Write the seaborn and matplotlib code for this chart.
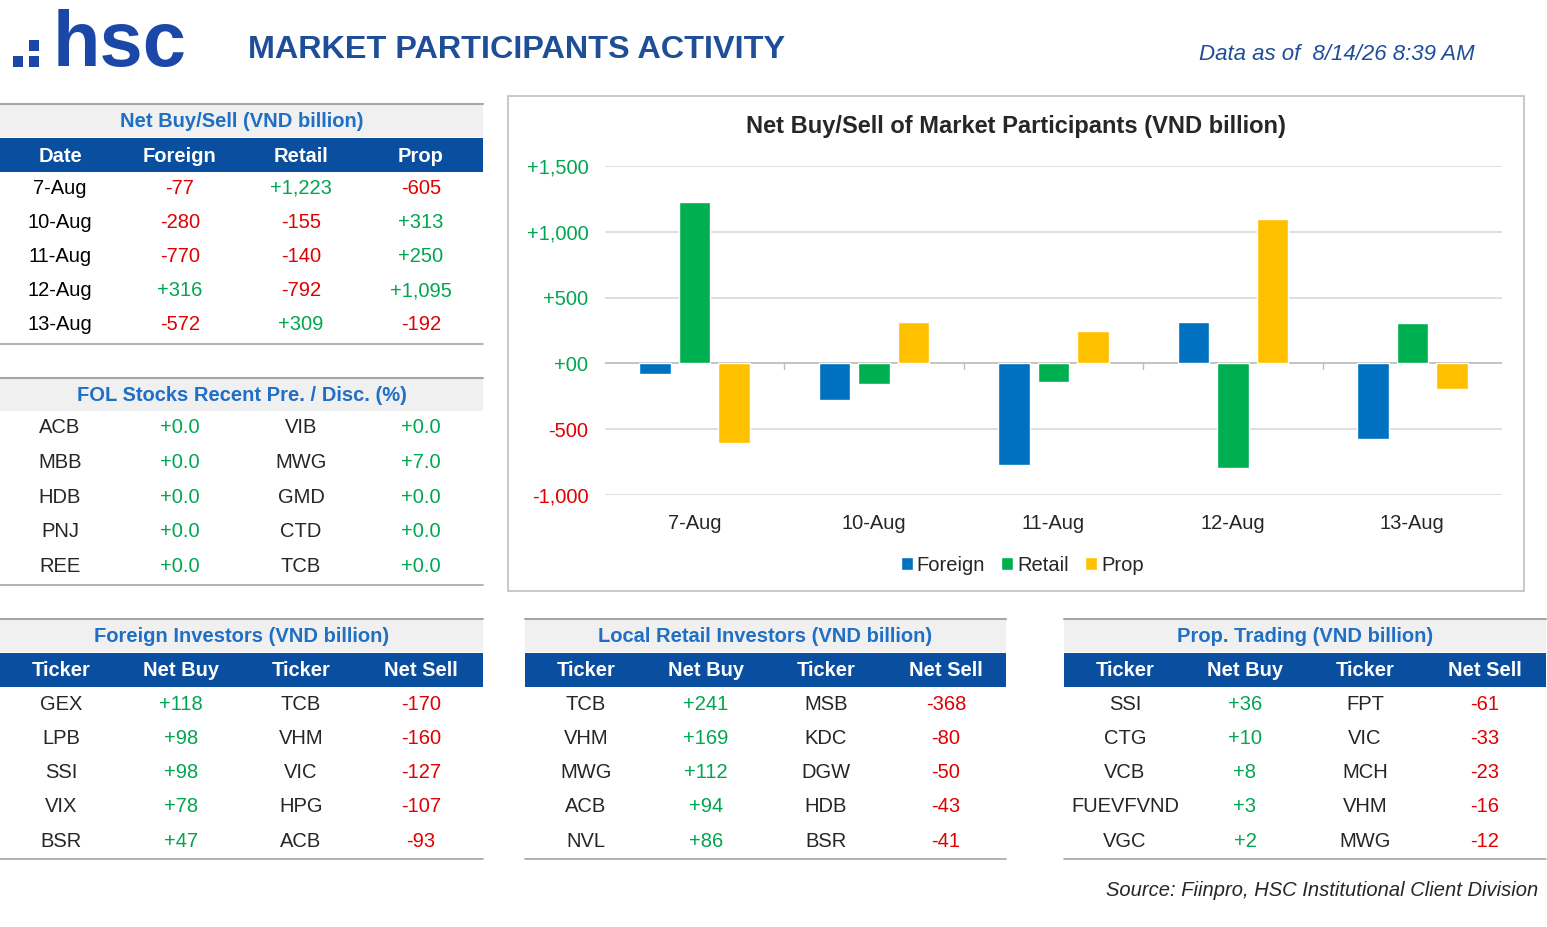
import matplotlib
matplotlib.use("Agg")
import matplotlib.pyplot as plt
import numpy as np
import pandas as pd
import seaborn as sns
from matplotlib.patches import Rectangle

W, H = 1547, 927
BLUE_HDR = "#0A4EA0"
BLUE_TXT = "#1F6FC5"
NAVY = "#1F4E99"
GREEN = "#00A650"
RED = "#E00000"
GRAY_BAND = "#F0F0F0"
LINE = "#A6A6A6"

# ---- data ----
dates = ["7-Aug", "10-Aug", "11-Aug", "12-Aug", "13-Aug"]
foreign = [-77, -280, -770, 316, -572]
retail = [1223, -155, -140, -792, 309]
prop = [-605, 313, 250, 1095, -192]

fol_left = ["ACB", "MBB", "HDB", "PNJ", "REE"]
fol_left_val = [0.0, 0.0, 0.0, 0.0, 0.0]
fol_right = ["VIB", "MWG", "GMD", "CTD", "TCB"]
fol_right_val = [0.0, 7.0, 0.0, 0.0, 0.0]

foreign_buy = ["GEX", "LPB", "SSI", "VIX", "BSR"]
foreign_buy_val = [118, 98, 98, 78, 47]
foreign_sell = ["TCB", "VHM", "VIC", "HPG", "ACB"]
foreign_sell_val = [-170, -160, -127, -107, -93]

retail_buy = ["TCB", "VHM", "MWG", "ACB", "NVL"]
retail_buy_val = [241, 169, 112, 94, 86]
retail_sell = ["MSB", "KDC", "DGW", "HDB", "BSR"]
retail_sell_val = [-368, -80, -50, -43, -41]

prop_buy = ["SSI", "CTG", "VCB", "FUEVFVND", "VGC"]
prop_buy_val = [36, 10, 8, 3, 2]
prop_sell = ["FPT", "VIC", "MCH", "VHM", "MWG"]
prop_sell_val = [-61, -33, -23, -16, -12]

sns.set_theme(style="white")
plt.rcParams["font.family"] = ["Liberation Sans", "DejaVu Sans"]

fig = plt.figure(figsize=(W / 100, H / 100), dpi=100)
fig.patch.set_facecolor("white")


def fy(y):
    return 1 - y / H


def fx(x):
    return x / W


def txt(x, y, s, **kw):
    kw.setdefault("ha", "center")
    kw.setdefault("va", "center")
    fig.text(fx(x), fy(y), s, **kw)


def rect(x0, y0, x1, y1, color, **kw):
    fig.patches.append(Rectangle((fx(x0), fy(y1)), fx(x1 - x0), (y1 - y0) / H,
                                 transform=fig.transFigure, facecolor=color,
                                 edgecolor="none", **kw))


def hline(x0, x1, y, color=LINE, lw=1.2):
    fig.add_artist(plt.Line2D([fx(x0), fx(x1)], [fy(y), fy(y)],
                              transform=fig.transFigure, color=color, lw=lw))


def fmt_int(v):
    return f"{v:+,d}"


def col_of(v):
    return GREEN if v >= 0 else RED


def section_title(x0, x1, y0, y1, title):
    rect(x0, y0, x1, y1, GRAY_BAND)
    hline(x0, x1, y0, LINE, 1.5)
    txt((x0 + x1) / 2, (y0 + y1) / 2 + 1, title, color=BLUE_TXT, fontsize=14.5, fontweight="bold")


def header(x0, x1, y0, y1, cols, labels):
    rect(x0, y0, x1, y1, BLUE_HDR)
    for cx, lab in zip(cols, labels):
        txt(cx, (y0 + y1) / 2 + 1, lab, color="white", fontsize=14.5, fontweight="bold")


row_ys = [188, 222, 256, 291, 325]

# ---- header ----
for sx, sy in [(13, 56), (29, 56), (29, 40)]:
    rect(sx, sy, sx + 10, sy + 11, "#1A47A8")
txt(53, 66, "hsc", ha="left", va="baseline", color="#1A47A8", fontsize=56, fontweight="bold")
txt(248, 50, "MARKET PARTICIPANTS ACTIVITY", ha="left", color=NAVY, fontsize=23.3, fontweight="bold")
txt(1475, 55, "Data as of  8/14/26 8:39 AM", ha="right", color=NAVY, fontsize=16, style="italic")

# ---- table 1 ----
c4 = [60, 180, 301, 421]
section_title(0, 483, 104, 137, "Net Buy/Sell (VND billion)")
header(0, 483, 138, 172, c4, ["Date", "Foreign", "Retail", "Prop"])
for i, y in enumerate(row_ys):
    txt(c4[0], y, dates[i], fontsize=14.5, color="black")
    for cx, v in zip(c4[1:], [foreign[i], retail[i], prop[i]]):
        txt(cx, y, fmt_int(v), fontsize=14.5, color=col_of(v))
hline(0, 483, 344)

# ---- table 2 ----
section_title(0, 483, 378, 411, "FOL Stocks Recent Pre. / Disc. (%)")
for i in range(5):
    y = 428 + i * 34.5
    txt(c4[0], y, fol_left[i], fontsize=14.5)
    txt(c4[1], y, f"{fol_left_val[i]:+.1f}", fontsize=14.5, color=col_of(fol_left_val[i]))
    txt(c4[2], y, fol_right[i], fontsize=14.5)
    txt(c4[3], y, f"{fol_right_val[i]:+.1f}", fontsize=14.5, color=col_of(fol_right_val[i]))
hline(0, 483, 585)

# ---- bottom tables ----
bottom = [
    (0, 483, "Foreign Investors (VND billion)", foreign_buy, foreign_buy_val, foreign_sell, foreign_sell_val),
    (525, 1006, "Local Retail Investors (VND billion)", retail_buy, retail_buy_val, retail_sell, retail_sell_val),
    (1064, 1546, "Prop. Trading (VND billion)", prop_buy, prop_buy_val, prop_sell, prop_sell_val),
]
for x0, x1, title, bt, bv, st, sv in bottom:
    cols = [x0 + 61, x0 + 181, x0 + 301, x0 + 421]
    section_title(x0, x1, 619, 652, title)
    header(x0, x1, 653, 687, cols, ["Ticker", "Net Buy", "Ticker", "Net Sell"])
    for i in range(5):
        y = 704 + i * 34.3
        txt(cols[0], y, bt[i], fontsize=14.5)
        txt(cols[1], y, fmt_int(bv[i]), fontsize=14.5, color=col_of(bv[i]))
        txt(cols[2], y, st[i], fontsize=14.5)
        txt(cols[3], y, fmt_int(sv[i]), fontsize=14.5, color=col_of(sv[i]))
    hline(x0, x1, 859)

txt(1538, 890, "Source: Fiinpro, HSC Institutional Client Division", ha="right", fontsize=14.5, style="italic")

# ---- chart ----
fig.patches.append(Rectangle((fx(508), fy(591)), fx(1524 - 508), (591 - 96) / H,
                             transform=fig.transFigure, facecolor="none",
                             edgecolor="#BFBFBF", lw=1.2, zorder=-5))
txt(1016, 127, "Net Buy/Sell of Market Participants (VND billion)", fontsize=17, fontweight="bold")

ax = fig.add_axes([fx(605), fy(495), fx(1502 - 605), (495 - 166) / H])
ax.set_facecolor("none")
df = pd.DataFrame({"Date": dates * 3,
                   "Value": foreign + retail + prop,
                   "Type": ["Foreign"] * 5 + ["Retail"] * 5 + ["Prop"] * 5})
sns.barplot(data=df, x="Date", y="Value", hue="Type", order=dates,
            palette=["#0070C0", "#00B050", "#FFC000"], width=0.66, gap=0.2,
            saturation=1, ax=ax, zorder=3)
ax.set_ylim(-1000, 1500)
ax.set_xlim(-0.5, 4.5)
ticks = [-1000, -500, 0, 500, 1000, 1500]
ax.set_yticks(ticks)
ax.set_yticklabels(["+00" if t == 0 else f"{t:+,d}" for t in ticks], fontsize=14.5)
for lab, t in zip(ax.get_yticklabels(), ticks):
    lab.set_color(GREEN if t >= 0 else RED)
ax.grid(axis="y", color="#D9D9D9", lw=1.2, zorder=0)
ax.axhline(0, color="#BFBFBF", lw=1.2, zorder=2)
for s in ax.spines.values():
    s.set_visible(False)
ax.tick_params(axis="y", length=0, pad=12)
ax.set_xticks(range(5))
ax.set_xticklabels(dates, fontsize=14.5)
ax.tick_params(axis="x", length=0, pad=14)
for b in np.arange(0.5, 4.5, 1):
    ax.plot([b, b], [0, -40], color="#BFBFBF", lw=1)
ax.set_xlabel("")
ax.set_ylabel("")
ax.legend(loc="upper center", bbox_to_anchor=(0.465, -0.13), ncol=3, frameon=False,
          fontsize=14.5, handlelength=0.6, handleheight=0.6, handletextpad=0.2,
          columnspacing=0.8)

fig.savefig("out.png", dpi=100, facecolor="white")
